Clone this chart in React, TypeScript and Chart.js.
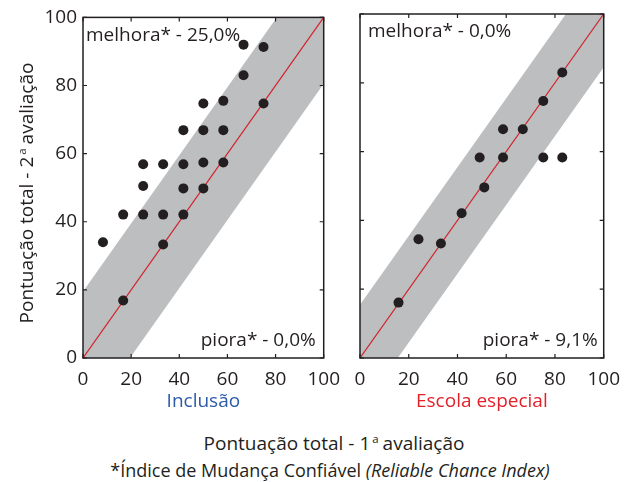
import React, { useEffect, useRef } from "react";
import { Chart, registerables } from "chart.js";

Chart.register(...registerables);

// ---- data ----
const tickValues = [0, 20, 40, 60, 80, 100];
const panelTitles = ["Inclusão", "Escola especial"];
const improvementLabels = ["melhora* - 25,0%", "melhora* - 0,0%"];
const worseningLabels = ["piora* - 0,0%", "piora* - 9,1%"];

const inclusaoFirst = [66.7, 75, 66.7, 50, 58.3, 75, 41.7, 50, 58.3, 25, 33.3, 41.7, 50, 58.3, 25, 41.7, 50, 16.7, 25, 33.3, 41.7, 8.3, 33.3, 16.7];
const inclusaoSecond = [92, 91.3, 83, 74.7, 75.5, 74.7, 66.9, 66.9, 66.9, 56.9, 56.9, 56.9, 57.4, 57.4, 50.5, 49.8, 49.8, 42.1, 42.1, 42.1, 42.1, 34, 33.3, 16.9];

const especialFirst = [83, 75.2, 58.7, 66.8, 49.1, 58.7, 75.2, 83, 51, 41.7, 24, 33.2, 15.8];
const especialSecond = [83, 74.7, 66.5, 66.5, 58.3, 58.3, 58.3, 58.3, 49.6, 42.1, 34.5, 33.3, 16.1];

// identity line and reliable-change band limits (2nd = 1st ± limit)
const identityX = [0, 100];
const bandLimits = [19.5, 15.5];

const INK = "#231f20";
const FONT = "'Open Sans', 'Noto Sans', sans-serif";
const FS = 19;

const framePlugin = {
  id: "frame",
  afterDatasetsDraw(chart: any, _args: any, opts: any) {
    const { ctx, chartArea, scales } = chart;
    const { left, right, top, bottom } = chartArea;
    const x = scales.x;
    const y = scales.y;
    ctx.save();
    ctx.strokeStyle = INK;
    ctx.lineWidth = 1.5;
    ctx.strokeRect(left, top, right - left, bottom - top);
    ctx.lineWidth = 1.2;
    ctx.beginPath();
    for (const v of tickValues) {
      const px = x.getPixelForValue(v);
      ctx.moveTo(px, bottom);
      ctx.lineTo(px, bottom - 4);
      ctx.moveTo(px, top);
      ctx.lineTo(px, top + 4);
      const py = y.getPixelForValue(v);
      ctx.moveTo(left, py);
      ctx.lineTo(left + 4, py);
      ctx.moveTo(right, py);
      ctx.lineTo(right - 4, py);
    }
    ctx.stroke();
    ctx.fillStyle = INK;
    ctx.font = `${FS}px ${FONT}`;
    ctx.textBaseline = "middle";
    ctx.textAlign = "left";
    ctx.fillText(opts.topText, left + opts.topDx, top + 18);
    ctx.textAlign = "right";
    ctx.fillText(opts.bottomText, right - opts.bottomDx, bottom - 17);
    ctx.restore();
  },
};

function Panel(props: {
  idx: number;
  xs: number[];
  ys: number[];
  canvasLeft: number;
  canvasWidth: number;
  yWidth: number;
  padRight: number;
  showY: boolean;
  titleColor: string;
  topDx: number;
  bottomDx: number;
}) {
  const ref = useRef<HTMLCanvasElement>(null);
  useEffect(() => {
    const lim = bandLimits[props.idx];
    const points = props.xs.map((v, i) => ({ x: v, y: props.ys[i] }));
    const chart = new Chart(ref.current as HTMLCanvasElement, {
      type: "line",
      data: {
        datasets: [
          {
            type: "scatter",
            data: points,
            backgroundColor: INK,
            borderWidth: 0,
            pointRadius: 5,
            order: 0,
          } as any,
          {
            data: identityX.map((v) => ({ x: v, y: v })),
            borderColor: "#d2232a",
            borderWidth: 1.2,
            pointRadius: 0,
            fill: false,
            order: 1,
          },
          {
            data: identityX.map((v) => ({ x: v, y: v + lim })),
            borderWidth: 0,
            borderColor: "rgba(0,0,0,0)",
            backgroundColor: "#bcbec0",
            pointRadius: 0,
            fill: "+1",
            order: 2,
          },
          {
            data: identityX.map((v) => ({ x: v, y: v - lim })),
            borderWidth: 0,
            borderColor: "rgba(0,0,0,0)",
            pointRadius: 0,
            fill: false,
            order: 3,
          },
        ],
      },
      options: {
        animation: false,
        responsive: false,
        maintainAspectRatio: false,
        devicePixelRatio: 1,
        layout: { padding: { top: 14, right: props.padRight, bottom: 0, left: 0 } },
        plugins: {
          legend: { display: false },
          tooltip: { enabled: false },
          frame: {
            topText: improvementLabels[props.idx],
            bottomText: worseningLabels[props.idx],
            topDx: props.topDx,
            bottomDx: props.bottomDx,
          },
        } as any,
        scales: {
          x: {
            type: "linear",
            min: 0,
            max: 100,
            afterBuildTicks: (s: any) => {
              s.ticks = tickValues.map((v) => ({ value: v }));
            },
            ticks: { color: INK, font: { family: FONT, size: FS }, padding: 10, maxRotation: 0 },
            grid: { display: false, drawTicks: false },
            border: { display: false },
            title: {
              display: true,
              text: panelTitles[props.idx],
              color: props.titleColor,
              font: { family: FONT, size: FS },
              padding: { top: 0, bottom: 7 },
            },
            afterFit: (s: any) => {
              s.height = 62;
            },
          },
          y: {
            type: "linear",
            min: 0,
            max: 100,
            afterBuildTicks: (s: any) => {
              s.ticks = tickValues.map((v) => ({ value: v }));
            },
            ticks: { display: props.showY, color: INK, font: { family: FONT, size: FS }, padding: 6 },
            grid: { display: false, drawTicks: false },
            border: { display: false },
            afterFit: (s: any) => {
              s.width = props.yWidth;
            },
          },
        },
      },
      plugins: [framePlugin],
    });
    return () => chart.destroy();
  }, []);
  return (
    <canvas
      ref={ref}
      width={props.canvasWidth}
      height={420}
      style={{ position: "absolute", left: props.canvasLeft, top: 0, width: props.canvasWidth, height: 420 }}
    />
  );
}

const supStyle: React.CSSProperties = { fontSize: "0.6em", verticalAlign: "0.6em", marginLeft: 2, marginRight: 4 };

export default function App() {
  return (
    <div style={{ position: "absolute", left: 0, top: 0, width: 630, height: 482, background: "#fff", fontFamily: FONT, color: INK }}>
      <Panel idx={0} xs={inclusaoFirst} ys={inclusaoSecond} canvasLeft={0} canvasWidth={350} yWidth={83} padRight={23} showY={true} titleColor="#2b5ba8" topDx={3} bottomDx={8} />
      <Panel idx={1} xs={especialFirst} ys={especialSecond} canvasLeft={330} canvasWidth={300} yWidth={30} padRight={26} showY={false} titleColor="#e4202a" topDx={8} bottomDx={6} />
      <div
        style={{
          position: "absolute",
          left: 22 - 160,
          top: 193 - 13,
          width: 320,
          height: 26,
          lineHeight: "26px",
          textAlign: "center",
          fontSize: FS,
          transform: "rotate(-90deg)",
          whiteSpace: "nowrap",
        }}
      >
        Pontuação total - 2<span style={supStyle}>a</span>avaliação
      </div>
      <div style={{ position: "absolute", left: 0, width: 668, top: 426, textAlign: "center", fontSize: FS, lineHeight: "26px", whiteSpace: "nowrap" }}>
        Pontuação total - 1<span style={supStyle}>a</span>avaliação
      </div>
      <div style={{ position: "absolute", left: 0, width: 660, top: 458, textAlign: "center", fontSize: 18, lineHeight: "24px", whiteSpace: "nowrap" }}>
        *Índice de Mudança Confiável <i>(Reliable Chance Index)</i>
      </div>
    </div>
  );
}
